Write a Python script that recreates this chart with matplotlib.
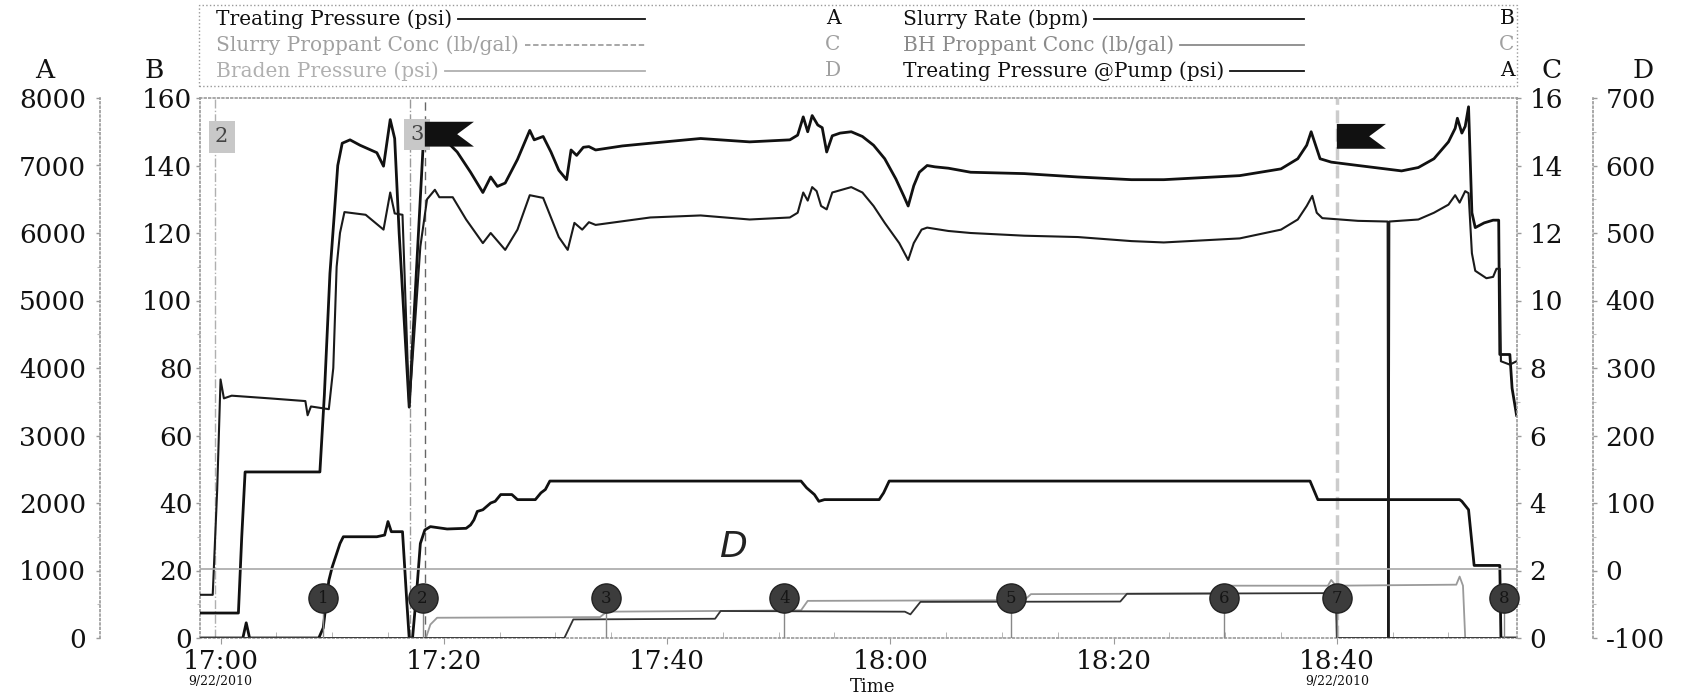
import numpy as np
import matplotlib.pyplot as plt
import matplotlib.transforms as mtransforms
from matplotlib.patches import Polygon, Rectangle
from matplotlib.lines import Line2D
from matplotlib.ticker import MultipleLocator, FixedLocator

plt.rcParams['font.family'] = ['DejaVu Serif']
plt.rcParams['axes.unicode_minus'] = False

# time in minutes after 17:00 (9/22/2010)
pump_t = [-1.84, 1.6, 1.9, 2.2, 8.9, 9.3, 9.8, 10.2, 10.5, 10.9, 11.6, 12.5, 14.0, 14.6, 15.2,
          15.6, 16.0, 16.9, 17.6, 18.2, 19.5, 20.3, 21.2, 22.4, 23.5, 24.2, 24.8, 25.5, 26.6,
          27.7, 28.1, 28.9, 29.6, 30.3, 31.0, 31.4, 31.9, 32.5, 33.0, 33.6, 36.0, 38.5, 43.0,
          47.4, 51.0, 51.7, 52.2, 52.6, 53.0, 53.5, 53.9, 54.3, 54.8, 55.5, 56.5, 57.5, 58.5,
          59.5, 60.5, 61.2, 61.6, 62.1, 62.6, 63.3, 64.0, 65.2, 67.2, 72.0, 76.8, 81.6, 84.5,
          91.3, 95.0, 96.5, 97.3, 97.7, 98.1, 98.5, 99.5, 101.9, 105.8, 107.3, 108.7, 110.0,
          110.6, 110.8, 111.2, 111.5, 111.8, 112.1, 112.4, 113.2, 114.0, 114.5, 114.6, 115.5,
          115.7, 116.1]
pump_psi = [370, 370, 1500, 2460, 2460, 3600, 5400, 6300, 7000, 7330, 7380, 7300, 7190, 6990, 7680,
            7400, 6000, 3420, 5600, 7450, 7450, 7350, 7200, 6900, 6600, 6830, 6690, 6740, 7090,
            7520, 7380, 7430, 7200, 6930, 6790, 7230, 7150, 7270, 7280, 7230, 7290, 7330, 7400,
            7350, 7380, 7450, 7720, 7500, 7740, 7600, 7560, 7200, 7440, 7480, 7500, 7430, 7300,
            7100, 6800, 6550, 6400, 6700, 6900, 7000, 6980, 6960, 6900, 6880, 6830, 6790, 6790,
            6850, 6950, 7100, 7300, 7500, 7300, 7100, 7050, 7000, 6920, 6970, 7100, 7350,
            7550, 7700, 7480, 7580, 7870, 6300, 6080, 6150, 6190, 6190, 4200, 4200,
            3700, 3300]

treat_t = [-1.84, -0.7, -0.3, 0.0, 0.3, 1.0, 4.4, 7.6, 7.8, 8.1, 9.7, 10.1, 10.4, 10.7, 11.1,
           13.0, 14.6, 15.2, 15.6, 16.3, 16.9, 17.9, 18.5, 19.2, 19.6, 20.8, 22.0, 23.5, 24.2,
           25.5, 26.6, 27.7, 28.9, 30.3, 31.1, 31.7, 32.4, 33.0, 33.6, 38.5, 43.0, 47.4, 51.0,
           51.7, 52.2, 52.6, 53.0, 53.4, 53.8, 54.3, 54.8, 56.5, 57.5, 58.5, 59.5, 60.8, 61.6,
           62.1, 62.8, 63.3, 65.2, 67.2, 72.0, 76.8, 81.6, 84.5, 91.3, 95.0, 96.5, 97.3, 97.8,
           98.2, 98.7, 101.9, 104.55, 104.62, 104.7, 107.3, 108.7, 110.0, 110.6, 111.0, 111.5,
           111.8, 112.1, 112.4, 113.4, 114.0, 114.3, 114.6, 114.7, 115.5, 116.1]
treat_psi = [640, 640, 2200, 3830, 3550, 3590, 3550, 3510, 3300, 3430, 3390, 4000, 5500, 6000, 6310,
             6270, 6050, 6600, 6290, 6270, 3420, 5800, 6500, 6640, 6530, 6530, 6200, 5850, 6000,
             5750, 6050, 6560, 6520, 5940, 5750, 6150, 6050, 6160, 6120, 6230, 6260, 6200, 6230,
             6300, 6600, 6480, 6680, 6620, 6400, 6350, 6600, 6680, 6600, 6400, 6150, 5850, 5600,
             5850, 6050, 6080, 6030, 6000, 5960, 5940, 5880, 5860, 5920, 6050, 6200, 6400, 6550,
             6300, 6220, 6180, 6170, 0, 6170, 6200, 6300, 6420, 6560, 6450, 6620,
             6590, 5700, 5440, 5330, 5350, 5470, 5470, 4100, 4050, 4100]

rate_t = [-1.84, 2.0, 2.3, 2.6, 8.8, 9.2, 9.7, 10.0, 10.4, 10.7, 11.0, 14.0, 14.7, 15.0, 15.3,
          16.3, 16.7, 16.9, 17.2, 17.6, 17.9, 18.3, 18.8, 20.3, 22.0, 22.4, 22.7, 23.0, 23.5,
          24.2, 24.6, 25.1, 26.1, 26.6, 28.2, 28.7, 29.1, 29.5, 52.0, 52.5, 53.2, 53.6, 54.1,
          59.0, 59.4, 59.9, 97.6, 98.3, 111.0, 111.2, 111.8, 112.3, 114.6, 114.7, 116.1]
rate_bpm = [0, 0, 4.5, 0, 0, 3, 17, 21, 25, 28, 30, 30, 30.5, 34.5, 31.5,
            31.5, 10, 0, 0, 15, 28, 32, 33, 32.3, 32.5, 33.5, 35, 37.5, 38,
            40, 40.5, 42.5, 42.5, 41, 41, 43, 44, 46.5, 46.5, 44.5, 42.5, 40.5, 41,
            41, 43, 46.5, 46.5, 41, 41, 40.5, 38, 21.5, 21.5, 0, 0]

slurry_conc_t = [-1.84, 18.4, 18.8, 19.4, 34.0, 34.6, 44.0, 52.0, 52.6, 72.0, 72.6, 89.5, 90.2,
                 99.2, 99.5, 99.9, 110.7, 111.0, 111.3, 111.5, 116.1]
slurry_conc = [0, 0, 0.4, 0.6, 0.62, 0.78, 0.8, 0.82, 1.1, 1.12, 1.3, 1.32, 1.55,
               1.55, 1.72, 1.55, 1.58, 1.82, 1.55, 0, 0]

bh_conc_t = [-1.84, 30.8, 31.6, 44.3, 44.8, 61.3, 61.8, 62.7, 80.6, 81.2, 99.9, 100.0, 116.1]
bh_conc = [0, 0, 0.55, 0.57, 0.8, 0.78, 0.7, 1.07, 1.08, 1.31, 1.33, 0, 0]

braden_t = [-1.84, 116.1]
braden_psi = [2, 2]

stage_t = [9.2, 18.1, 34.5, 50.5, 70.8, 89.9, 100.0, 115.0]
stage_no = ['1', '2', '3', '4', '5', '6', '7', '8']
event_t = [-0.5, 17.0]
event_no = ['2', '3']
flag_t = [18.3, 100.0]

time_ticks = [0, 20, 40, 60, 80, 100]
time_labels = ['17:00', '17:20', '17:40', '18:00', '18:20', '18:40']

left_labels = ['Treating Pressure (psi)', 'Slurry Proppant Conc (lb/gal)', 'Braden Pressure (psi)']
left_axis = ['A', 'C', 'D']
right_labels = ['Slurry Rate (bpm)', 'BH Proppant Conc (lb/gal)', 'Treating Pressure @Pump (psi)']
right_axis = ['B', 'C', 'A']

W, H = 1690, 696
fig = plt.figure(figsize=(W / 100, H / 100), dpi=100)
axB = fig.add_axes([200 / W, 58 / H, 1317 / W, 540 / H])
axA = axB.twinx()
axC = axB.twinx()
axD = axB.twinx()

gc = '#9a9a9a'
for ax in (axA, axB, axC, axD):
    for s in ax.spines.values():
        s.set_visible(False)
    ax.set_xlim(-1.84, 116.14)
    ax.tick_params(axis='y', which='major', labelsize=19, length=3, width=1, color=gc, labelcolor='#111')
    ax.tick_params(axis='y', which='minor', length=2, width=0.8, color='#bbbbbb')

def dotted(sp):
    sp.set_visible(True)
    sp.set_linestyle(':')
    sp.set_color(gc)
    sp.set_linewidth(1.2)

# B axis (host)
axB.set_ylim(0, 160)
axB.yaxis.set_major_locator(MultipleLocator(20))
axB.yaxis.set_minor_locator(MultipleLocator(10))
axB.yaxis.tick_left()
axB.tick_params(axis='y', pad=2.5)
dotted(axB.spines['left'])
dotted(axB.spines['top'])
dotted(axB.spines['bottom'])
axB.xaxis.set_major_locator(FixedLocator(time_ticks))
axB.set_xticklabels(time_labels)
axB.xaxis.set_minor_locator(MultipleLocator(5))
axB.tick_params(axis='x', which='major', labelsize=19, length=4, pad=4, color=gc, labelcolor='#111')
axB.tick_params(axis='x', which='minor', direction='in', length=4, color='#aaaaaa')

# A axis
axA.set_ylim(0, 8000)
axA.yaxis.set_major_locator(MultipleLocator(1000))
axA.yaxis.set_minor_locator(MultipleLocator(500))
axA.yaxis.tick_left()
axA.spines['left'].set_position(('axes', -100 / 1317))
dotted(axA.spines['left'])
axA.tick_params(axis='y', pad=7)

# C axis
axC.set_ylim(0, 16)
axC.yaxis.set_major_locator(MultipleLocator(2))
axC.yaxis.set_minor_locator(MultipleLocator(1))
dotted(axC.spines['right'])
axC.tick_params(axis='y', pad=6)

# D axis
axD.set_ylim(-100, 700)
axD.yaxis.set_major_locator(MultipleLocator(100))
axD.yaxis.set_minor_locator(MultipleLocator(50))
axD.spines['right'].set_position(('axes', 1393 / 1317))
dotted(axD.spines['right'])
axD.tick_params(axis='y', pad=6)

for x, s in zip([45, 154, 1552, 1643], ['A', 'B', 'C', 'D']):
    fig.text(x / W, 1 - 71 / H, s, fontsize=19, ha='center', va='center', color='#111')

# event lines
axB.axvline(event_t[0], color='#b0b0b0', ls='-.', lw=1)
axB.axvline(event_t[1], color='#999999', ls='-.', lw=1)
axB.axvline(flag_t[0], color='#666666', ls=(0, (6, 4)), lw=1)
axB.axvline(flag_t[1], color='#cccccc', ls='--', lw=2.5)

# curves
axA.plot(pump_t, pump_psi, color='#111111', lw=2.0)
axA.plot(treat_t, treat_psi, color='#1a1a1a', lw=1.5)
axB.plot(rate_t, rate_bpm, color='#111111', lw=2.0)
axC.plot(slurry_conc_t, slurry_conc, color='#9a9a9a', lw=1.3)
axC.plot(bh_conc_t, bh_conc, color='#333333', lw=1.3)
axD.plot(braden_t, braden_psi, color='#a8a8a8', lw=1.2)

# annotations on the topmost axes
tr = mtransforms.blended_transform_factory(axD.transData, axD.transAxes)
for t, n in zip(stage_t, stage_no):
    axD.plot([t, t], [0, 0.074], transform=tr, color='#888888', lw=1, zorder=5)
    axD.plot([t], [0.074], transform=tr, marker='o', ms=21, mfc='#3c3c3c', mec='#222222',
             zorder=6, clip_on=False)
    axD.text(t, 0.074, n, transform=tr, ha='center', va='center', fontsize=12,
             color='#151515', zorder=7)

for t, n, y in zip(event_t, event_no, [0.928, 0.932]):
    axD.text(t + 0.6, y, n, transform=tr, ha='center', va='center', fontsize=15, color='#444444',
             zorder=7, bbox=dict(boxstyle='square,pad=0.3', fc='#c8c8c8', ec='none'))

for t, y0, y1 in zip(flag_t, [0.910, 0.906], [0.956, 0.952]):
    x1 = t + 4.4
    pts = [(t, y0), (x1, y0), (x1 - 1.5, (y0 + y1) / 2), (x1, y1), (t, y1)]
    axD.add_patch(Polygon(pts, closed=True, transform=tr, fc='#111111', ec='none', zorder=7))

for t in [0, 100]:
    axD.text(t, -0.08, '9/22/2010', transform=tr, ha='center', va='center', fontsize=9, color='#111')

axD.text(45.9, 0.168, 'D', transform=tr, ha='center', va='center', fontsize=26,
         family='DejaVu Sans', fontstyle='italic', fontweight='light', color='#222')

fig.text(873 / W, 1 - 678 / H, 'Time', fontsize=13, ha='center', va='top', color='#111')

# legend box
fig.add_artist(Rectangle((199 / W, 1 - 86 / H), 1318 / W, 81 / H, transform=fig.transFigure,
                         fill=False, ls=':', ec='#999999', lw=1))
row_y = [1 - 19 / H, 1 - 45 / H, 1 - 71 / H]
left_col = ['#111111', '#a0a0a0', '#b0b0b0']
left_ls = ['-', (0, (3, 1.5)), '-']
right_col = ['#111111', '#8a8a8a', '#111111']
axis_col_l = ['#111111', '#a0a0a0', '#a0a0a0']
axis_col_r = ['#111111', '#a0a0a0', '#111111']
renderer = fig.canvas.get_renderer()
for i in range(3):
    tl = fig.text(216 / W, row_y[i], left_labels[i], fontsize=14.5, color=left_col[i], va='center')
    bb = tl.get_window_extent(renderer)
    fig.add_artist(Line2D([(bb.x1 + 6) / W, 645 / W], [row_y[i]] * 2, transform=fig.transFigure,
                          color=left_col[i], lw=1.3, ls=left_ls[i]))
    fig.text(833 / W, row_y[i], left_axis[i], fontsize=14.5, color=axis_col_l[i], ha='center', va='center')
    tr_ = fig.text(903 / W, row_y[i], right_labels[i], fontsize=14.5, color=right_col[i], va='center')
    bb = tr_.get_window_extent(renderer)
    fig.add_artist(Line2D([(bb.x1 + 6) / W, 1304 / W], [row_y[i]] * 2, transform=fig.transFigure,
                          color=right_col[i], lw=1.3))
    fig.text(1507 / W, row_y[i], right_axis[i], fontsize=14.5, color=axis_col_r[i], ha='center', va='center')

fig.savefig('out.png', dpi=100)
